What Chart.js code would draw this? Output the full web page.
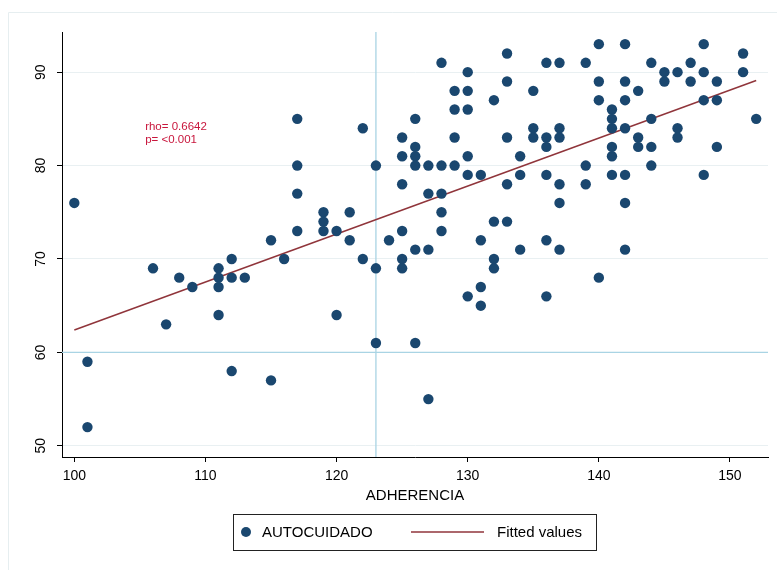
<!DOCTYPE html>
<html>
<head>
<meta charset="utf-8">
<script src="https://cdn.jsdelivr.net/npm/chart.js@4/dist/chart.umd.min.js"></script>
<style>
  html, body { margin: 0; padding: 0; background: #ffffff; }
  #wrap { width: 777px; height: 570px; position: relative; }
</style>
</head>
<body>
<div id="wrap"><canvas id="c" width="777" height="570"></canvas></div>
<script>
// ---- data ----
const adherencia = [
  100,
  101, 101,
  106, 107, 108, 109,
  111, 111, 111, 111,
  112, 112, 112,
  113,
  115, 115,
  116,
  117, 117, 117, 117,
  119, 119, 119,
  120, 120,
  121, 121,
  122, 122,
  123, 123, 123,
  124,
  125, 125, 125, 125, 125, 125,
  126, 126, 126, 126, 126, 126,
  127, 127, 127, 127,
  128, 128, 128, 128, 128,
  129, 129, 129, 129,
  130, 130, 130, 130, 130, 130,
  131, 131, 131, 131,
  132, 132, 132, 132,
  133, 133, 133, 133, 133,
  134, 134, 134,
  135, 135, 135,
  136, 136, 136, 136, 136, 136,
  137, 137, 137, 137, 137, 137,
  139, 139, 139,
  140, 140, 140, 140,
  141, 141, 141, 141, 141, 141,
  142, 142, 142, 142, 142, 142, 142,
  143, 143, 143,
  144, 144, 144, 144,
  145, 145,
  146, 146, 146,
  147, 147,
  148, 148, 148, 148,
  149, 149, 149,
  151, 151,
  152
];
const autocuidado = [
  76,
  59, 52,
  69, 63, 68, 67,
  69, 68, 67, 64,
  70, 68, 58,
  68,
  72, 57,
  70,
  85, 80, 77, 73,
  75, 74, 73,
  73, 64,
  75, 72,
  84, 70,
  80, 69, 61,
  72,
  83, 81, 78, 73, 70, 69,
  85, 82, 81, 80, 71, 61,
  80, 77, 71, 55,
  91, 80, 77, 75, 73,
  88, 86, 83, 80,
  90, 88, 86, 81, 79, 66,
  79, 72, 67, 65,
  87, 74, 70, 69,
  92, 89, 83, 78, 74,
  81, 79, 71,
  88, 84, 83,
  91, 83, 82, 79, 72, 66,
  91, 84, 83, 78, 76, 71,
  91, 80, 78,
  93, 89, 87, 68,
  86, 85, 84, 82, 81, 79,
  93, 89, 87, 84, 79, 76, 71,
  88, 83, 82,
  91, 85, 82, 80,
  90, 89,
  90, 84, 83,
  91, 89,
  93, 90, 87, 79,
  89, 87, 82,
  92, 90,
  85
];
const fittedX = [100, 152];
const fittedY = [62.4, 89.1];
const xTicks = [100, 110, 120, 130, 140, 150];
const yTicks = [50, 60, 70, 80, 90];
const refX = 123;
const refY = 60;
const seriesLabels = ['AUTOCUIDADO', 'Fitted values'];
const axisTitle = 'ADHERENCIA';
const annotLines = ['rho= 0.6642', 'p= <0.001'];

// ---- styles ----
const FONT = "'Liberation Sans', Arial, Helvetica, sans-serif";
const NAVY = '#1a476f';
const MAROON = '#90353b';
const REFCOL = '#a9d4e4';
const GRIDCOL = '#e9f0f2';

const scatterPts = adherencia.map((x, i) => ({ x: x, y: autocuidado[i] }));
const fitPts = fittedX.map((x, i) => ({ x: x, y: fittedY[i] }));

const bgPlugin = {
  id: 'bg',
  beforeDraw(chart) {
    const ctx = chart.ctx;
    ctx.save();
    ctx.fillStyle = '#ffffff';
    ctx.fillRect(0, 0, chart.width, chart.height);
    ctx.strokeStyle = '#e6eef0';
    ctx.lineWidth = 1;
    ctx.beginPath();
    ctx.moveTo(8.5, chart.height);
    ctx.lineTo(8.5, 12.5);
    ctx.lineTo(chart.width, 12.5);
    ctx.stroke();
    ctx.restore();
  }
};

const refPlugin = {
  id: 'refLines',
  beforeDatasetsDraw(chart) {
    const ctx = chart.ctx, a = chart.chartArea;
    const xs = chart.scales.x, ys = chart.scales.y;
    const px = xs.getPixelForValue(refX), py = ys.getPixelForValue(refY);
    ctx.save();
    ctx.strokeStyle = REFCOL;
    ctx.lineWidth = 1.3;
    ctx.beginPath();
    ctx.moveTo(px, a.top);
    ctx.lineTo(px, a.bottom);
    ctx.moveTo(a.left, py);
    ctx.lineTo(a.right, py);
    ctx.stroke();
    ctx.restore();
  }
};

const annotPlugin = {
  id: 'annot',
  afterDatasetsDraw(chart) {
    const ctx = chart.ctx;
    const xs = chart.scales.x, ys = chart.scales.y;
    const x0 = xs.getPixelForValue(105.4);
    const y0 = ys.getPixelForValue(84.1);
    ctx.save();
    ctx.fillStyle = '#c8163c';
    ctx.font = '11.5px ' + FONT;
    ctx.textAlign = 'left';
    ctx.textBaseline = 'middle';
    annotLines.forEach((t, i) => ctx.fillText(t, x0, y0 + i * 12.5));
    ctx.restore();
  }
};

const legendPlugin = {
  id: 'boxLegend',
  afterDraw(chart) {
    const ctx = chart.ctx;
    const ds = chart.data.datasets;
    ctx.save();
    ctx.strokeStyle = '#222';
    ctx.lineWidth = 1;
    ctx.strokeRect(233.5, 514.5, 363, 36);
    const cy = 532;
    ctx.fillStyle = ds[0].backgroundColor;
    ctx.beginPath();
    ctx.arc(246, cy, 5, 0, Math.PI * 2);
    ctx.fill();
    ctx.font = '15px ' + FONT;
    ctx.fillStyle = '#000';
    ctx.textAlign = 'left';
    ctx.textBaseline = 'middle';
    ctx.fillText(ds[0].label, 262, cy + 1);
    ctx.strokeStyle = ds[1].borderColor;
    ctx.lineWidth = 1.5;
    ctx.beginPath();
    ctx.moveTo(411, cy);
    ctx.lineTo(484, cy);
    ctx.stroke();
    ctx.fillText(ds[1].label, 497, cy + 1);
    ctx.restore();
  }
};

new Chart(document.getElementById('c'), {
  type: 'scatter',
  data: {
    datasets: [
      {
        label: seriesLabels[0],
        data: scatterPts,
        backgroundColor: NAVY,
        borderColor: NAVY,
        borderWidth: 0,
        pointRadius: 5.2,
        pointHoverRadius: 5.2
      },
      {
        type: 'line',
        label: seriesLabels[1],
        data: fitPts,
        borderColor: MAROON,
        backgroundColor: MAROON,
        borderWidth: 1.5,
        pointRadius: 0,
        fill: false,
        tension: 0
      }
    ]
  },
  options: {
    responsive: false,
    animation: false,
    devicePixelRatio: 1,
    layout: { padding: { left: 0, right: 9, top: 32, bottom: 65 } },
    plugins: {
      legend: { display: false },
      tooltip: { enabled: false }
    },
    scales: {
      x: {
        type: 'linear',
        min: 99.06,
        max: 152.9,
        afterBuildTicks(scale) { scale.ticks = xTicks.map(v => ({ value: v })); },
        afterFit(scale) { scale.height = 48; },
        border: { color: '#000', width: 1 },
        grid: { drawOnChartArea: false, drawTicks: true, tickLength: 5, tickColor: '#000' },
        ticks: { color: '#000', font: { family: FONT, size: 14 }, padding: 6, maxRotation: 0, autoSkip: false },
        title: { display: true, text: axisTitle, color: '#000', font: { family: FONT, size: 15 }, padding: { top: 0, bottom: 0 } }
      },
      y: {
        type: 'linear',
        min: 48.8,
        max: 94.3,
        afterBuildTicks(scale) { scale.ticks = yTicks.map(v => ({ value: v })); },
        afterFit(scale) { scale.width = 62; },
        border: { color: '#000', width: 1 },
        grid: { drawOnChartArea: true, color: GRIDCOL, lineWidth: 1, drawTicks: true, tickLength: 5, tickColor: '#000' },
        ticks: { color: '#000', font: { family: FONT, size: 14 }, padding: 8, minRotation: 90, maxRotation: 90, crossAlign: 'center', autoSkip: false }
      }
    }
  },
  plugins: [bgPlugin, refPlugin, annotPlugin, legendPlugin]
});
</script>
</body>
</html>
